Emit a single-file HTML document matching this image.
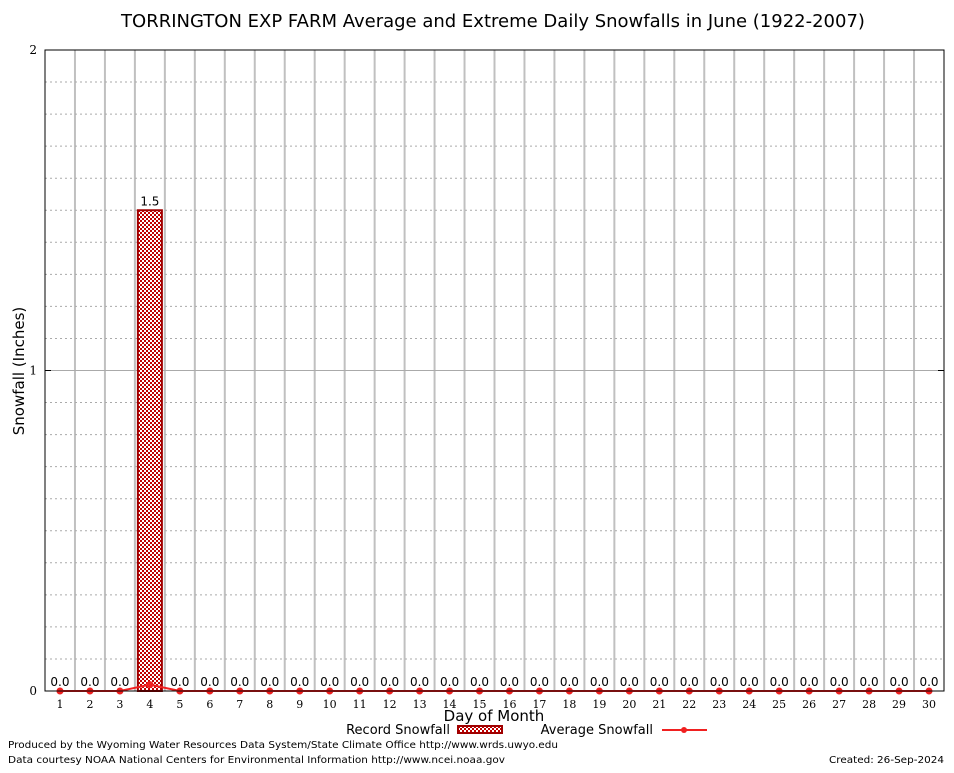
<!DOCTYPE html>
<html><head><meta charset="utf-8"><style>
body{margin:0;background:#fff;width:954px;height:768px;overflow:hidden}
</style></head><body>
<svg id="c" width="954" height="768" xmlns="http://www.w3.org/2000/svg" font-family="DejaVu Sans, Liberation Sans, sans-serif">
<defs>
<pattern id="hatch" width="4" height="4" patternUnits="userSpaceOnUse">
<rect width="4" height="4" fill="#fff"/>
<rect width="2" height="2" fill="#c00000"/><rect x="2" y="2" width="2" height="2" fill="#c00000"/>
</pattern>
</defs>
<text x="493" y="27" font-size="18" text-anchor="middle">TORRINGTON EXP FARM Average and Extreme Daily Snowfalls in June (1922-2007)</text>
<g id="grid"></g>
<g id="marks"></g>
<rect x="45" y="50" width="899" height="641" fill="none" stroke="#000"/>
<text transform="translate(24,371) rotate(-90)" font-size="15" text-anchor="middle">Snowfall (Inches)</text>
<text x="494" y="721" font-size="15" text-anchor="middle">Day of Month</text>
<g>
<text x="450" y="734" font-size="13" text-anchor="end">Record Snowfall</text>
<rect x="458" y="726" width="44" height="7" fill="url(#hatch)" stroke="#a00000" stroke-width="2"/>
<text x="653" y="734" font-size="13" text-anchor="end">Average Snowfall</text>
<line x1="662" y1="730" x2="707" y2="730" stroke="#f02020" stroke-width="2"/>
<circle cx="684" cy="730" r="3" fill="#f02020"/>
</g>
<text x="8" y="748" font-size="10" textLength="550" lengthAdjust="spacingAndGlyphs">Produced by the Wyoming Water Resources Data System/State Climate Office http://www.wrds.uwyo.edu</text>
<text x="8" y="763" font-size="10" textLength="497" lengthAdjust="spacingAndGlyphs">Data courtesy NOAA National Centers for Environmental Information http://www.ncei.noaa.gov</text>
<text x="829" y="763" font-size="10" textLength="115" lengthAdjust="spacingAndGlyphs">Created:  26-Sep-2024</text>
</svg>
<script>
const days=[1,2,3,4,5,6,7,8,9,10,11,12,13,14,15,16,17,18,19,20,21,22,23,24,25,26,27,28,29,30];
const recordSnow=[0,0,0,1.5,0,0,0,0,0,0,0,0,0,0,0,0,0,0,0,0,0,0,0,0,0,0,0,0,0,0];
const avgSnow=[0,0,0,0.02,0,0,0,0,0,0,0,0,0,0,0,0,0,0,0,0,0,0,0,0,0,0,0,0,0,0];
const yTicks=[0,1,2];
const NS="http://www.w3.org/2000/svg";
const X0=45,X1=944,Y0=691,Y1=50,YMAX=2;
const step=(X1-X0)/days.length;
const xs=d=>X0+(d-0.5)*step;
const ys=v=>Y0-(v/YMAX)*(Y0-Y1);
function mk(t,a,p){const e=document.createElementNS(NS,t);for(const k in a)e.setAttribute(k,a[k]);p.appendChild(e);return e;}
const grid=document.getElementById('grid'),marks=document.getElementById('marks');
for(let i=1;i<days.length;i++){
 const l=mk('line',{x1:X0+i*step,x2:X0+i*step,y1:Y1,y2:Y0,stroke:'#c0c0c0','stroke-width':2},grid);
 
 
}
for(let v=0.1;v<YMAX-0.01;v+=0.1){
 if(Math.abs(v-1)<0.01)continue;
 const l=mk('line',{x1:X0,x2:X1,y1:ys(v),y2:ys(v),stroke:'#aaa','stroke-dasharray':'2,3'},grid);
 
 
}
yTicks.forEach(v=>{
 if(v>0&&v<YMAX){const l=mk('line',{x1:X0,x2:X1,y1:ys(v),y2:ys(v),stroke:'#aaa'},grid);
 
 }
 const t=mk('text',{x:X0-8,y:ys(v)+4,'font-size':12,'text-anchor':'end','font-family':'DejaVu Serif, Liberation Serif, serif'},marks);
 t.textContent=v;
 
 
 const tk=mk('line',{x1:X0,x2:X0+6,y1:ys(v),y2:ys(v),stroke:'#000'},marks);
 
 
 const tk2=mk('line',{x1:X1-6,x2:X1,y1:ys(v),y2:ys(v),stroke:'#000'},marks);
 
 
});
days.forEach((d,i)=>{
 const x=xs(d),v=recordSnow[i];
 if(v>0){const r=mk('rect',{x:x-12,y:ys(v),width:24,height:Y0-ys(v),fill:'url(#hatch)',stroke:'#a00000','stroke-width':2},marks);
 
 }
 const t=mk('text',{x:x,y:ys(v)-5,'font-size':12,'text-anchor':'middle'},marks);
 t.textContent=v.toFixed(1);
 
 
 const xl=mk('text',{x:x,y:708,'font-size':11,'text-anchor':'middle','font-family':'DejaVu Serif, Liberation Serif, serif'},marks);
 xl.textContent=d;
 
 
});
const pts=days.map((d,i)=>xs(d)+','+ys(avgSnow[i])).join(' ');
const pl=mk('polyline',{points:pts,fill:'none',stroke:'#f02020','stroke-width':2},marks);


days.forEach((d,i)=>{
 const c=mk('circle',{cx:xs(d),cy:ys(avgSnow[i]),r:3.5,fill:'#f02020'},marks);
 
 
});
</script>
</body></html>
